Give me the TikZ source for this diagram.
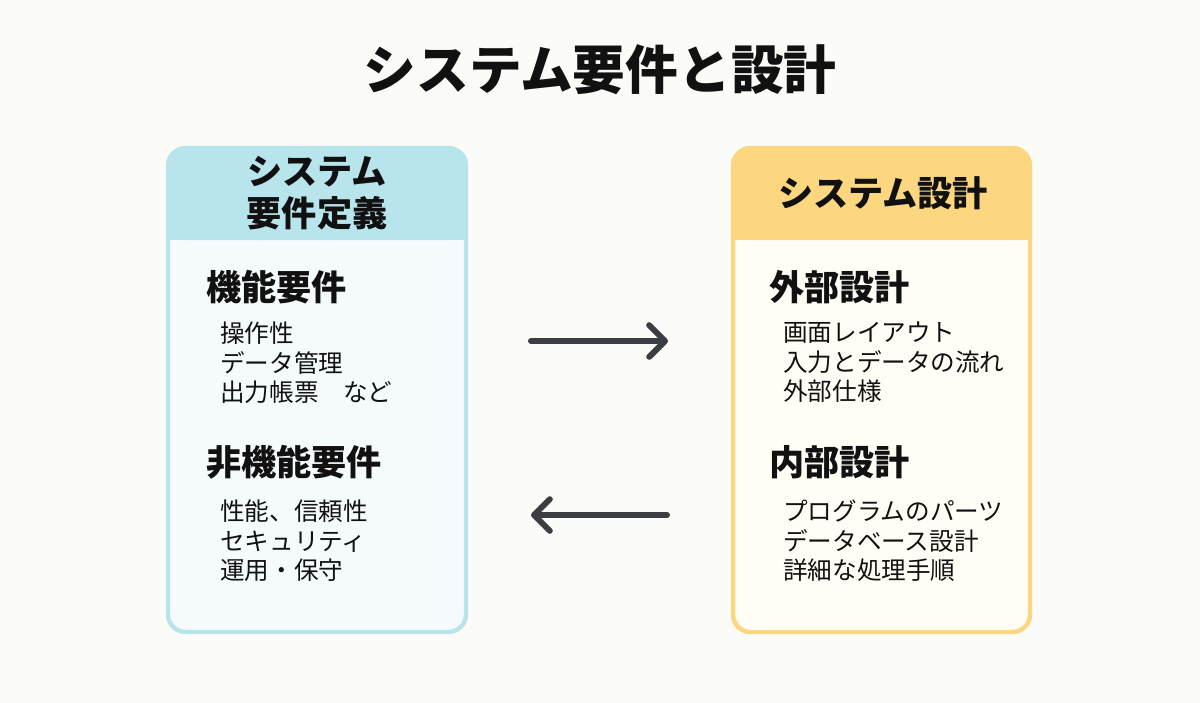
\documentclass[tikz,border=0pt]{standalone}
\usepackage{fontspec}
\setmainfont{Noto Sans CJK JP}
\usetikzlibrary{arrows.meta}
\definecolor{bg}{HTML}{FBFBF7}
\definecolor{cyanh}{HTML}{B8E4EC}
\definecolor{cyanb}{HTML}{F5FBFD}
\definecolor{yelh}{HTML}{FCD77F}
\definecolor{yelb}{HTML}{FFFDF6}
\definecolor{ink}{HTML}{111111}
\definecolor{arr}{HTML}{3A3D42}
\tikzset{
 title/.style={font=\fontsize{30}{36}\selectfont\bfseries, text=ink},
 head/.style={font=\fontsize{20}{24}\selectfont\bfseries, text=ink, align=center},
 sec/.style={font=\fontsize{20}{24}\selectfont\bfseries, text=ink, anchor=west},
 item/.style={font=\fontsize{14}{16.7}\selectfont, text=ink, anchor=north west, align=left},
 conn/.style={draw=arr, line width=3.4pt, line cap=round, -{Straight Barb[length=9pt,width=18pt,line width=3.4pt, round]}}
}
\begin{document}
\begin{tikzpicture}[x=0.02cm,y=-0.02cm]
\fill[bg] (0,0) rectangle (1200,703);
\node[title] (t) at (600,70) {システム要件と設計};
% left box
\fill[cyanb, rounded corners=10pt] (168,148) rectangle (466,632);
\fill[cyanh, rounded corners=10pt] (168,148) rectangle (466,240);
\fill[cyanh] (168,200) rectangle (466,240);
\draw[cyanh, line width=2.5pt, rounded corners=10pt] (168,148) rectangle (466,632);
\node[head] (lh) at (317,193) {システム\\要件定義};
\node[sec] (l1) at (200,287) {機能要件};
\node[item] (l1i) at (214,316) {操作性\\データ管理\\出力帳票　など};
\node[sec] (l2) at (200,462) {非機能要件};
\node[item] (l2i) at (214,494) {性能、信頼性\\セキュリティ\\運用・保守};
% right box
\fill[yelb, rounded corners=10pt] (733,148) rectangle (1030,632);
\fill[yelh, rounded corners=10pt] (733,148) rectangle (1030,240);
\fill[yelh] (733,200) rectangle (1030,240);
\draw[yelh, line width=2.5pt, rounded corners=10pt] (733,148) rectangle (1030,632);
\node[head] (rh) at (883,193) {システム設計};
\node[sec] (r1) at (763,287) {外部設計};
\node[item] (r1i) at (777,316) {画面レイアウト\\入力とデータの流れ\\外部仕様};
\node[sec] (r2) at (763,462) {内部設計};
\node[item] (r2i) at (777,494) {プログラムのパーツ\\データベース設計\\詳細な処理手順};
% arrows
\coordinate (a1) at (531,341); \coordinate (b1) at (668,341);
\coordinate (a2) at (667,515); \coordinate (b2) at (531,515);
\draw[conn] (a1) -- (b1);
\draw[conn] (a2) -- (b2);
\end{tikzpicture}
\end{document}
